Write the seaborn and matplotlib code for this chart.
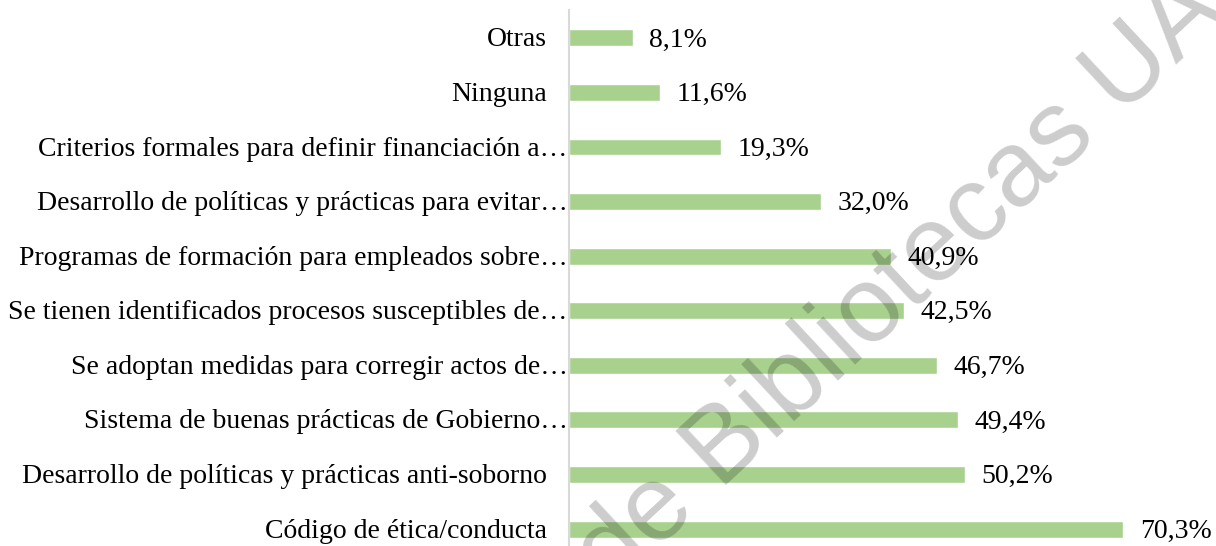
import pandas as pd
import matplotlib.pyplot as plt
import seaborn as sns

# Data
medidas = [
    "Otras",
    "Ninguna",
    "Criterios formales para definir financiación a…",
    "Desarrollo de políticas y prácticas para evitar…",
    "Programas de formación para empleados sobre…",
    "Se tienen identificados procesos susceptibles de…",
    "Se adoptan medidas para corregir actos de…",
    "Sistema de buenas prácticas de Gobierno…",
    "Desarrollo de políticas y prácticas anti-soborno",
    "Código de ética/conducta",
]
porcentajes = [8.1, 11.6, 19.3, 32.0, 40.9, 42.5, 46.7, 49.4, 50.2, 70.3]

df = pd.DataFrame({"medida": medidas, "pct": porcentajes})

sns.set_theme(style="white")
plt.rcParams["font.family"] = ["Liberation Serif", "DejaVu Serif"]

fig = plt.figure(figsize=(12.16, 5.46), dpi=100)
ax = fig.add_axes([569 / 1216, 0, 1 - 569 / 1216, 1 - 10 / 546])

sns.barplot(data=df, x="pct", y="medida", color="#a9d18e", saturation=1,
            width=0.31, ax=ax)

# value labels next to each bar
for i, v in enumerate(porcentajes):
    ax.annotate(f"{v:.1f}%".replace(".", ","), xy=(v, i), xytext=(12, -1.5),
                textcoords="offset points", va="center", ha="left",
                fontsize=20, color="black")

# category labels (truncated ones sit closer to the axis, like Excel does)
ax.set_yticklabels([])
for i, m in enumerate(medidas):
    off = -1 if m.endswith("…") else -15.8
    ax.annotate(m, xy=(0, i), xycoords=("axes fraction", "data"),
                xytext=(off, -1.5), textcoords="offset points",
                ha="right", va="center", fontsize=20, color="black")

ax.set_xlim(0, (1216 - 569) / 7.88)
ax.set_ylim(9.31, -0.51)
ax.set_xlabel("")
ax.set_ylabel("")
ax.set_xticks([])
ax.tick_params(axis="y", length=0)
for s in ["top", "right", "bottom"]:
    ax.spines[s].set_visible(False)
ax.spines["left"].set_color("#d9d9d9")
ax.spines["left"].set_linewidth(1.5)

# watermark
fig.text(611 / 1216, -46 / 546, "de Bibliotecas UA", rotation=43,
         rotation_mode="anchor", ha="left", va="baseline",
         fontsize=77, family="Liberation Sans", color="black", alpha=0.2,
         zorder=10)

fig.savefig("out.png", dpi=100)
